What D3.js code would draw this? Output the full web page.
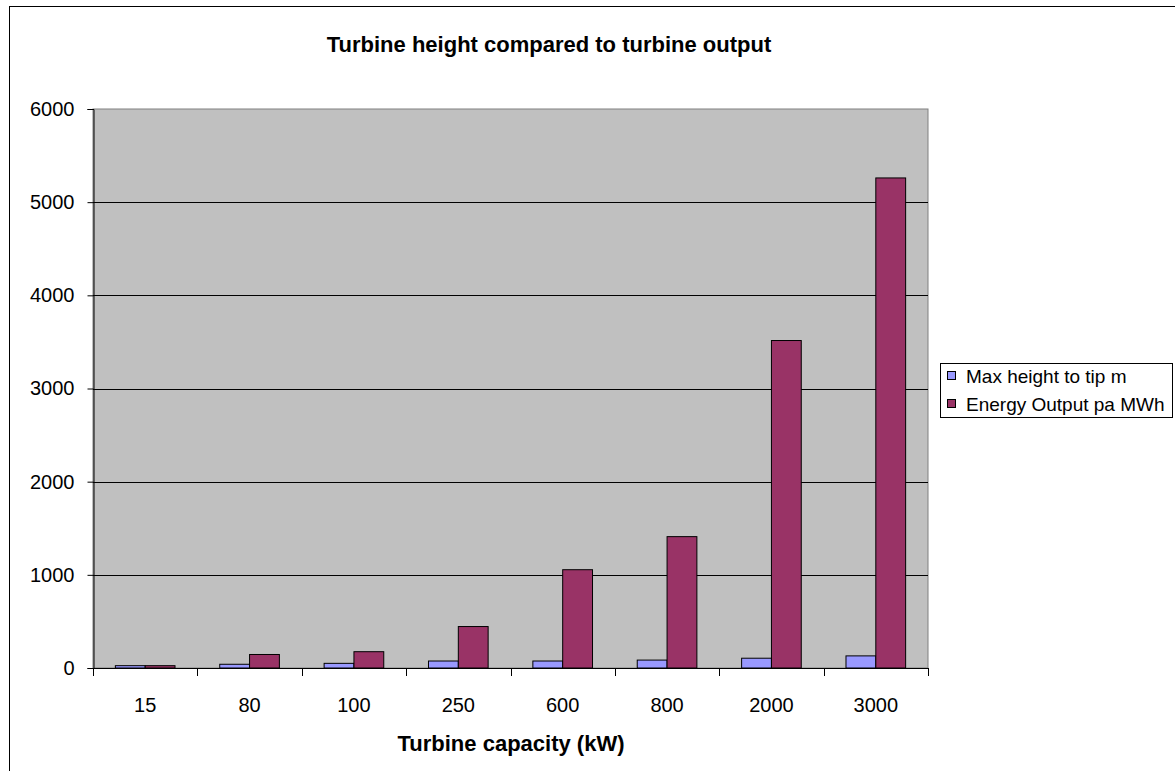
<!DOCTYPE html>
<html>
<head>
<meta charset="utf-8">
<script src="https://cdn.jsdelivr.net/npm/d3@7/dist/d3.min.js"></script>
<style>
  html, body { margin: 0; padding: 0; background: #fff; }
  svg { display: block; font-family: "Liberation Sans", Arial, sans-serif; }
</style>
</head>
<body>
<svg id="chart" width="1175" height="771"></svg>
<script>
// Turbine capacity categories (kW)
const categories = ["15", "80", "100", "250", "600", "800", "2000", "3000"];
// Series values
const maxHeight = [25, 40, 50, 75, 75, 85, 105, 130];          // m
const energyOutput = [25, 145, 175, 445, 1055, 1410, 3515, 5260]; // MWh per year
const seriesNames = ["Max height to tip m", "Energy Output pa MWh"];
const seriesColors = ["#9999FF", "#993366"];
const yTicks = [0, 1000, 2000, 3000, 4000, 5000, 6000];

const svg = d3.select("#chart");

// Outer chart frame
svg.append("rect")
  .attr("x", 9.5).attr("y", 6.5)
  .attr("width", 1300).attr("height", 900)
  .attr("fill", "#fff").attr("stroke", "#000").attr("stroke-width", 1);

const plot = { left: 93, top: 109, right: 928, bottom: 668 };

const x = d3.scaleBand()
  .domain(categories)
  .range([plot.left, plot.right])
  .paddingInner(0).paddingOuter(0);

const y = d3.scaleLinear()
  .domain([0, 6000])
  .range([plot.bottom, plot.top]);

// Plot area background
svg.append("rect")
  .attr("x", plot.left).attr("y", plot.top)
  .attr("width", plot.right - plot.left).attr("height", plot.bottom - plot.top)
  .attr("fill", "#C0C0C0").attr("stroke", "#808080").attr("stroke-width", 1);

// Horizontal gridlines
svg.append("g")
  .selectAll("line")
  .data(yTicks.filter(t => t > 0 && t < 6000))
  .join("line")
  .attr("x1", plot.left).attr("x2", plot.right)
  .attr("y1", d => Math.round(y(d)) + 0.5).attr("y2", d => Math.round(y(d)) + 0.5)
  .attr("stroke", "#000").attr("stroke-width", 1);

// Grouped bars: two series per category, 150% gap width
const gapRatio = 1.5;
const barW = x.bandwidth() / (2 + gapRatio);
const series = [maxHeight, energyOutput];

series.forEach((vals, si) => {
  svg.append("g")
    .selectAll("rect")
    .data(categories.map((c, i) => ({ c, v: vals[i] })))
    .join("rect")
    .attr("x", d => x(d.c) + barW * gapRatio / 2 + si * barW)
    .attr("y", d => y(d.v))
    .attr("width", barW)
    .attr("height", d => y(0) - y(d.v))
    .attr("fill", seriesColors[si])
    .attr("stroke", "#000").attr("stroke-width", 1);
});

// Y axis
const yAxis = svg.append("g")
  .attr("transform", `translate(${plot.left + 0.5},0)`)
  .call(d3.axisLeft(y).tickValues(yTicks).tickFormat(d3.format("d")).tickSizeOuter(0).tickSize(6).tickPadding(13));
yAxis.select(".domain").attr("stroke", "#000");
yAxis.selectAll("line").attr("stroke", "#000");
yAxis.selectAll("text").attr("font-size", 20).attr("fill", "#000")
  .attr("font-family", "'Liberation Sans', Arial, sans-serif");

// X axis: ticks at category boundaries
const xAxisG = svg.append("g");
xAxisG.append("line")
  .attr("x1", plot.left).attr("x2", plot.right)
  .attr("y1", plot.bottom + 0.5).attr("y2", plot.bottom + 0.5)
  .attr("stroke", "#000");
const boundaries = categories.map(c => x(c)).concat([plot.right]);
xAxisG.selectAll("line.tick")
  .data(boundaries)
  .join("line")
  .attr("class", "tick")
  .attr("x1", d => Math.round(d) + 0.5).attr("x2", d => Math.round(d) + 0.5)
  .attr("y1", plot.bottom).attr("y2", plot.bottom + 8)
  .attr("stroke", "#000");
xAxisG.selectAll("text")
  .data(categories)
  .join("text")
  .attr("x", d => x(d) + x.bandwidth() / 2)
  .attr("y", 712)
  .attr("text-anchor", "middle")
  .attr("font-size", 20)
  .text(d => d);

// Titles
svg.append("text")
  .attr("x", 549).attr("y", 52)
  .attr("text-anchor", "middle")
  .attr("font-size", 22).attr("font-weight", "bold")
  .text("Turbine height compared to turbine output");

svg.append("text")
  .attr("x", 511).attr("y", 751)
  .attr("text-anchor", "middle")
  .attr("font-size", 22).attr("font-weight", "bold")
  .text("Turbine capacity (kW)");

// Legend
const legend = svg.append("g");
legend.append("rect")
  .attr("x", 940.5).attr("y", 363.5)
  .attr("width", 232).attr("height", 54)
  .attr("fill", "#fff").attr("stroke", "#000");
seriesNames.forEach((name, i) => {
  const ly = 376 + i * 28;
  legend.append("rect")
    .attr("x", 947.5).attr("y", ly - 4.5)
    .attr("width", 8).attr("height", 8)
    .attr("fill", seriesColors[i]).attr("stroke", "#000");
  legend.append("text")
    .attr("x", 966).attr("y", ly + 6.5)
    .attr("font-size", 19)
    .text(name);
});
</script>
</body>
</html>
